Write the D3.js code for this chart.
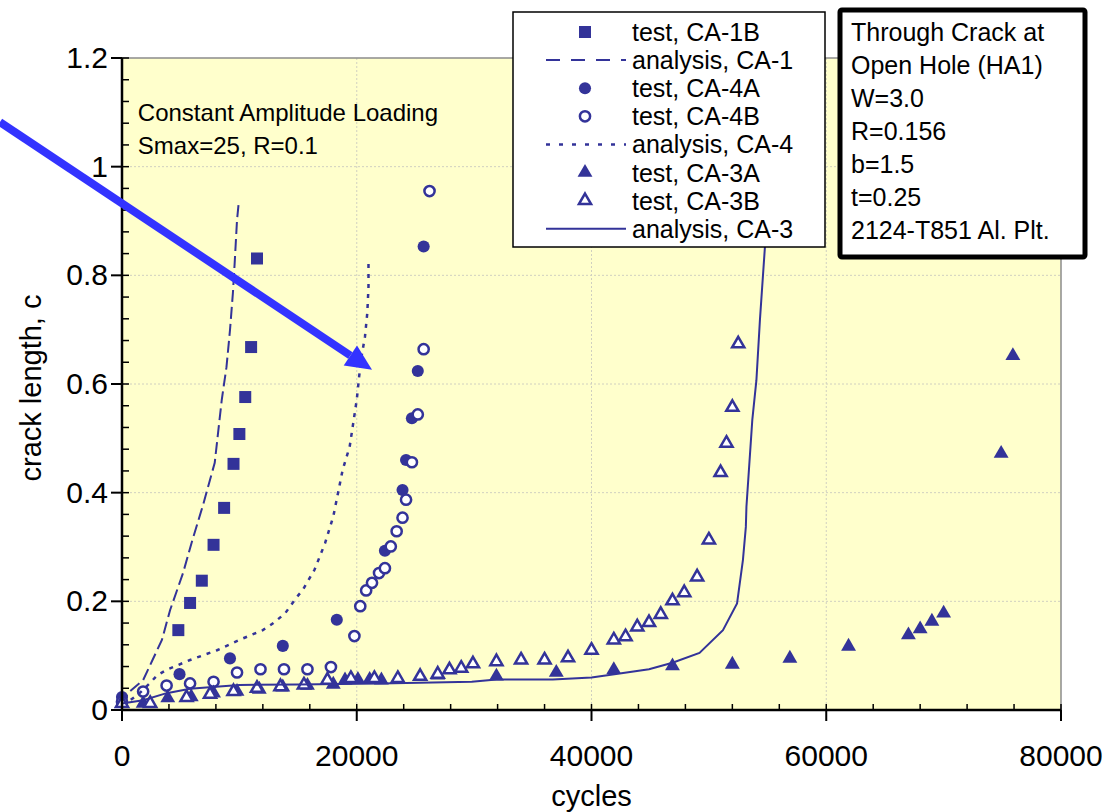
<!DOCTYPE html>
<html>
<head>
<meta charset="utf-8">
<script src="https://cdn.jsdelivr.net/npm/d3@7"></script>
<style>
  body { margin: 0; background: #fff; }
  text { font-family: "Liberation Sans", Arial, sans-serif; fill: #000; }
</style>
</head>
<body>
<div id="chart"></div>
<script>
// ---- data (cycles, crack length c) ----
const ca1bTest = [[4800,0.147],[5800,0.197],[6800,0.238],[7800,0.304],[8700,0.372],
  [9500,0.453],[10000,0.508],[10500,0.576],[11000,0.668],[11500,0.831]];

const ca1Analysis = [[0,0.008],[500,0.031],[1800,0.055],[2600,0.092],[3400,0.129],
  [4100,0.184],[5200,0.252],[6000,0.313],[6900,0.377],[7900,0.455],[8500,0.571],
  [8900,0.631],[9200,0.699],[9450,0.768],[9600,0.823],[9800,0.902],[9950,0.935]];

const ca4aTest = [[0,0.024],[4900,0.066],[9200,0.095],[13700,0.118],[18300,0.166],
  [22400,0.293],[23900,0.405],[24200,0.46],[24700,0.537],[25200,0.624],[25700,0.853]];

const ca4bTest = [[0,0.015],[1800,0.034],[3800,0.045],[5800,0.049],[7800,0.052],
  [9800,0.069],[11800,0.075],[13800,0.075],[15800,0.075],[17800,0.079],[19800,0.136],
  [20300,0.191],[20800,0.22],[21300,0.234],[21900,0.252],[22400,0.261],[22900,0.301],
  [23400,0.329],[23900,0.354],[24200,0.387],[24700,0.456],[25200,0.544],[25700,0.664],
  [26200,0.955]];

const ca4Analysis = [[0,0.01],[700,0.018],[1500,0.031],[2400,0.05],[3000,0.064],
  [3800,0.074],[5800,0.092],[8100,0.11],[10000,0.129],[12000,0.147],[12900,0.16],
  [13900,0.178],[14900,0.208],[15400,0.221],[16400,0.258],[17300,0.307],[18000,0.356],
  [18400,0.399],[18800,0.442],[19400,0.485],[19700,0.528],[20000,0.571],[20200,0.613],
  [20400,0.65],[20700,0.687],[20900,0.731],[21000,0.779],[21000,0.825]];

const ca3aTest = [[1800,0.012],[3900,0.022],[5900,0.024],[7800,0.031],[9800,0.034],
  [11700,0.038],[13700,0.042],[15800,0.045],[18000,0.047],[19000,0.055],[20100,0.056],
  [21100,0.056],[22100,0.055],[26900,0.064],[31900,0.062],[37000,0.069],[41900,0.074],
  [46900,0.081],[52000,0.084],[56900,0.095],[61900,0.117],[67000,0.138],[68000,0.149],
  [69000,0.163],[70000,0.178],[74900,0.472],[75900,0.652]];

const ca3bTest = [[0,0.012],[2400,0.012],[5500,0.023],[7500,0.029],[9500,0.034],
  [11500,0.04],[13500,0.043],[15500,0.046],[17500,0.055],[19500,0.058],[21500,0.058],
  [23500,0.058],[25400,0.062],[26900,0.066],[27900,0.074],[28900,0.077],[29900,0.085],
  [31900,0.089],[34000,0.092],[36000,0.092],[38000,0.096],[40000,0.11],[41900,0.129],
  [42900,0.135],[43900,0.153],[44900,0.161],[45900,0.176],[46900,0.201],[47900,0.216],
  [49000,0.245],[50000,0.313],[51000,0.437],[51500,0.491],[52000,0.557],[52500,0.674]];

const ca3Analysis = [[0,0.012],[1800,0.018],[3800,0.031],[5800,0.039],[8000,0.043],
  [10000,0.046],[15000,0.047],[22000,0.049],[29800,0.052],[31900,0.056],[36700,0.056],
  [40000,0.06],[42400,0.067],[44900,0.075],[46900,0.087],[49200,0.105],[51200,0.147],
  [52400,0.196],[52900,0.276],[53150,0.337],[53200,0.374],[53700,0.534],[54050,0.607],
  [54350,0.718],[54800,0.86]];

const xTickValues = [0, 20000, 40000, 60000, 80000];
const xTickLabels = ["0", "20000", "40000", "60000", "80000"];
const yTickValues = [0, 0.2, 0.4, 0.6, 0.8, 1.0, 1.2];
const yTickLabels = ["0", "0.2", "0.4", "0.6", "0.8", "1", "1.2"];

const legendLabels = ["test, CA-1B", "analysis, CA-1", "test, CA-4A", "test, CA-4B",
  "analysis, CA-4", "test, CA-3A", "test, CA-3B", "analysis, CA-3"];
const infoLines = ["Through Crack at", "Open Hole (HA1)", "W=3.0", "R=0.156",
  "b=1.5", "t=0.25", "2124-T851 Al. Plt."];
const noteLines = ["Constant Amplitude Loading", "Smax=25, R=0.1"];
// arrow in data units: tail (off the left edge) -> head
const arrowPts = [[-10400, 1.082], [21300, 0.626]];

// ---- layout ----
const W = 1107, H = 812;
const plot = { left: 122, right: 1061, top: 58, bottom: 710 };
const navy = "#333399";

const svg = d3.select("#chart").append("svg")
  .attr("width", W).attr("height", H)
  .attr("viewBox", `0 0 ${W} ${H}`);

const x = d3.scaleLinear().domain([0, 80000]).range([plot.left, plot.right]);
const y = d3.scaleLinear().domain([0, 1.2]).range([plot.bottom, plot.top]);

// plot background
svg.append("rect")
  .attr("x", plot.left).attr("y", plot.top)
  .attr("width", plot.right - plot.left).attr("height", plot.bottom - plot.top)
  .attr("fill", "#ffffcc");

// gridlines
svg.append("g").selectAll("line")
  .data(yTickValues.filter((d) => d > 0 && d < 1.2))
  .join("line")
  .attr("x1", plot.left).attr("x2", plot.right)
  .attr("y1", (d) => y(d)).attr("y2", (d) => y(d))
  .attr("stroke", "#d0d0c0").attr("stroke-width", 1).attr("stroke-dasharray", "2,2");
svg.append("g").selectAll("line")
  .data(xTickValues.filter((d) => d > 0 && d < 80000))
  .join("line")
  .attr("y1", plot.top).attr("y2", plot.bottom)
  .attr("x1", (d) => x(d)).attr("x2", (d) => x(d))
  .attr("stroke", "#d0d0c0").attr("stroke-width", 1).attr("stroke-dasharray", "2,2");

// top/right frame
svg.append("path")
  .attr("d", `M${plot.left},${plot.top}H${plot.right}V${plot.bottom}`)
  .attr("fill", "none").attr("stroke", "#8c8c8c").attr("stroke-width", 1.5);

// clip for data
svg.append("clipPath").attr("id", "clip").append("rect")
  .attr("x", plot.left - 8).attr("y", plot.top)
  .attr("width", plot.right - plot.left + 16).attr("height", plot.bottom - plot.top + 8);
const g = svg.append("g").attr("clip-path", "url(#clip)");

const line = d3.line().x((d) => x(d[0])).y((d) => y(d[1]));

const symSquare = d3.symbol().type(d3.symbolSquare).size(144);
const symCircle = d3.symbol().type(d3.symbolCircle).size(115);
const symCircleOpen = d3.symbol().type(d3.symbolCircle).size(82);
const symTri = d3.symbol().type(d3.symbolTriangle).size(96);
const symTriOpen = d3.symbol().type(d3.symbolTriangle).size(64);

function markers(data, sym, open) {
  g.append("g").selectAll("path")
    .data(data)
    .join("path")
    .attr("d", sym)
    .attr("transform", (d) => `translate(${x(d[0])},${y(d[1])})`)
    .attr("fill", open ? "#fff" : navy)
    .attr("stroke", open ? navy : "none")
    .attr("stroke-width", open ? 2.5 : 0);
}

function curve(data, dash, width) {
  g.append("path")
    .datum(data)
    .attr("d", line)
    .attr("fill", "none")
    .attr("stroke", navy)
    .attr("stroke-width", width)
    .attr("stroke-dasharray", dash);
}

// series in legend order
markers(ca1bTest, symSquare, false);
curve(ca1Analysis, "12,5", 2);
markers(ca4aTest, symCircle, false);
markers(ca4bTest, symCircleOpen, true);
curve(ca4Analysis, "4,6", 2.5);
markers(ca3aTest, symTri, false);
markers(ca3bTest, symTriOpen, true);
curve(ca3Analysis, null, 2);

// ---- axes ----
const axis = svg.append("g").attr("stroke", "#000");
// minor ticks (inside)
axis.selectAll(".xminor")
  .data(d3.range(0, 80001, 4000))
  .join("line")
  .attr("x1", (d) => x(d)).attr("x2", (d) => x(d))
  .attr("y1", plot.bottom).attr("y2", plot.bottom - 6)
  .attr("stroke-width", 1.5);
axis.selectAll(".yminor")
  .data(d3.range(0, 1.2001, 0.04))
  .join("line")
  .attr("y1", (d) => y(d)).attr("y2", (d) => y(d))
  .attr("x1", plot.left).attr("x2", plot.left + 7)
  .attr("stroke-width", 1.5);
// major ticks (outside)
axis.selectAll(".xmajor")
  .data(xTickValues)
  .join("line")
  .attr("x1", (d) => x(d)).attr("x2", (d) => x(d))
  .attr("y1", plot.bottom).attr("y2", plot.bottom + 11)
  .attr("stroke-width", 2);
axis.selectAll(".ymajor")
  .data(yTickValues)
  .join("line")
  .attr("y1", (d) => y(d)).attr("y2", (d) => y(d))
  .attr("x1", plot.left - 11).attr("x2", plot.left)
  .attr("stroke-width", 2);
// axis lines
axis.append("line")
  .attr("x1", plot.left).attr("x2", plot.right)
  .attr("y1", plot.bottom).attr("y2", plot.bottom).attr("stroke-width", 2.5);
axis.append("line")
  .attr("x1", plot.left).attr("x2", plot.left)
  .attr("y1", plot.top).attr("y2", plot.bottom).attr("stroke-width", 2.5);

svg.append("g").selectAll("text")
  .data(xTickValues)
  .join("text")
  .attr("x", (d) => x(d)).attr("y", plot.bottom + 56)
  .attr("text-anchor", "middle").attr("font-size", 30)
  .text((d, i) => xTickLabels[i]);
svg.append("g").selectAll("text")
  .data(yTickValues)
  .join("text")
  .attr("x", plot.left - 14).attr("y", (d) => y(d) + 10)
  .attr("text-anchor", "end").attr("font-size", 30)
  .text((d, i) => yTickLabels[i]);

svg.append("text")
  .attr("x", (plot.left + plot.right) / 2).attr("y", 806)
  .attr("text-anchor", "middle").attr("font-size", 29)
  .text("cycles");
svg.append("text")
  .attr("transform", `translate(41,${(plot.top + plot.bottom) / 2 + 4}) rotate(-90)`)
  .attr("text-anchor", "middle").attr("font-size", 29)
  .text("crack length, c");

// ---- note text ----
svg.append("g").selectAll("text")
  .data(noteLines)
  .join("text")
  .attr("x", x(1350))
  .attr("y", (d, i) => y(1.084) + i * 33)
  .attr("font-size", 24)
  .text((d) => d);

// ---- legend ----
const lg = svg.append("g").attr("transform", "translate(513,12)");
lg.append("rect")
  .attr("width", 312).attr("height", 235)
  .attr("fill", "#fff").attr("stroke", "#000").attr("stroke-width", 1.5);
const legendKinds = [
  { sym: symSquare, open: false }, { dash: "14,11", w: 2 },
  { sym: symCircle, open: false }, { sym: symCircleOpen, open: true },
  { dash: "4,9", w: 2.5 }, { sym: symTri, open: false },
  { sym: symTriOpen, open: true }, { dash: null, w: 2 },
];
legendLabels.forEach((label, i) => {
  const cy = 20 + i * 28.1;
  const k = legendKinds[i];
  if (k.sym) {
    lg.append("path").attr("d", k.sym)
      .attr("transform", `translate(72,${cy})`)
      .attr("fill", k.open ? "#fff" : navy)
      .attr("stroke", k.open ? navy : "none")
      .attr("stroke-width", k.open ? 2.5 : 0);
  } else {
    lg.append("line")
      .attr("x1", 33).attr("x2", 113).attr("y1", cy).attr("y2", cy)
      .attr("stroke", navy).attr("stroke-width", k.w)
      .attr("stroke-dasharray", k.dash);
  }
  lg.append("text")
    .attr("x", 119).attr("y", cy + 9)
    .attr("font-size", 25)
    .text(label);
});

// ---- info box ----
const ib = svg.append("g").attr("transform", "translate(840,10)");
ib.append("rect")
  .attr("width", 245).attr("height", 247)
  .attr("fill", "#fff").attr("stroke", "#000").attr("stroke-width", 5)
  .attr("rx", 2);
ib.selectAll("text")
  .data(infoLines)
  .join("text")
  .attr("x", 11).attr("y", (d, i) => 22 + i * 33.05 + 9)
  .attr("font-size", 25)
  .text((d) => d);

// ---- arrow ----
const ax0 = x(arrowPts[0][0]), ay0 = y(arrowPts[0][1]);
const ax1 = x(arrowPts[1][0]), ay1 = y(arrowPts[1][1]);
const ang = Math.atan2(ay1 - ay0, ax1 - ax0);
const headLen = 26, headW = 12;
const bx = ax1 - headLen * Math.cos(ang), by = ay1 - headLen * Math.sin(ang);
svg.append("line")
  .attr("x1", ax0).attr("y1", ay0).attr("x2", bx).attr("y2", by)
  .attr("stroke", "#3333ff").attr("stroke-width", 8);
svg.append("path")
  .attr("d", `M${ax1},${ay1}L${bx + headW * Math.sin(ang)},${by - headW * Math.cos(ang)}` +
    `L${bx - headW * Math.sin(ang)},${by + headW * Math.cos(ang)}Z`)
  .attr("fill", "#3333ff");
</script>
</body>
</html>
